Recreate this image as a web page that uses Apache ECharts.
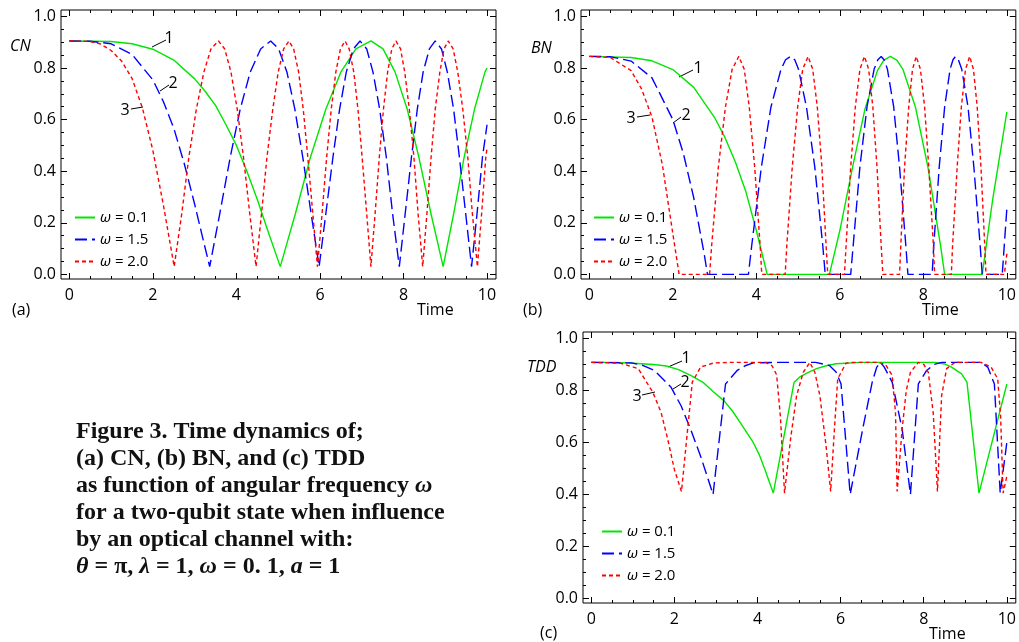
<!DOCTYPE html>
<html>
<head>
<meta charset="utf-8">
<script src="https://cdn.jsdelivr.net/npm/echarts@6/dist/echarts.min.js"></script>
<style>
  html, body { margin: 0; padding: 0; background: #fff; }
  #chart { width: 1019px; height: 642px; }
</style>
</head>
<body>
<div id="chart"></div>
<script>
// tick values
const xTicks = [0, 2, 4, 6, 8, 10];
const yTicks = [0, 0.2, 0.4, 0.6, 0.8, 1.0];
const seriesNames = ['ω = 0.1', 'ω = 1.5', 'ω = 2.0'];

// (a) CN  [time, value]
const cnW01 = [[0,.905],[1,.903],[1.5,.894],[2,.873],[2.5,.831],[3,.758],[3.25,.71],[3.5,.655],[3.75,.58],[4,.50],[4.25,.40],[4.5,.29],[4.75,.17],[5.05,.03],[5.41,.234],[5.77,.453],[6.14,.640],[6.50,.784],[6.86,.874],[7.22,.905],[7.51,.874],[7.80,.784],[8.09,.640],[8.37,.453],[8.66,.234],[8.95,.03],[9.20,.234],[9.45,.453],[9.70,.640],[9.95,.784],[10,.80]];
const cnW15 = [[0,.905],[0.5,.904],[1,.894],[1.5,.853],[2,.754],[2.25,.67],[2.5,.567],[2.75,.43],[3,.272],[3.18,.15],[3.36,.03],[3.60,.234],[3.85,.453],[4.09,.640],[4.33,.784],[4.58,.874],[4.82,.905],[5.01,.874],[5.21,.784],[5.40,.640],[5.59,.453],[5.79,.234],[5.98,.03],[6.14,.234],[6.31,.453],[6.47,.640],[6.63,.784],[6.80,.874],[6.96,.905],[7.12,.874],[7.27,.784],[7.43,.640],[7.59,.453],[7.74,.234],[7.90,.03],[8.04,.234],[8.19,.453],[8.33,.640],[8.47,.784],[8.62,.874],[8.76,.905],[8.91,.874],[9.05,.784],[9.20,.640],[9.34,.453],[9.49,.234],[9.63,.03],[9.76,.234],[9.89,.453],[10,.58]];
const cnW20 = [[0,.905],[0.5,.903],[0.75,.893],[1,.868],[1.25,.827],[1.5,.76],[1.75,.645],[2,.48],[2.25,.27],[2.51,.03],[2.69,.234],[2.86,.453],[3.04,.640],[3.22,.784],[3.39,.874],[3.57,.905],[3.72,.874],[3.87,.784],[4.02,.640],[4.17,.453],[4.32,.234],[4.47,.03],[4.60,.234],[4.73,.453],[4.87,.640],[5.00,.784],[5.13,.874],[5.26,.905],[5.37,.874],[5.49,.784],[5.60,.640],[5.71,.453],[5.83,.234],[5.94,.03],[6.05,.234],[6.16,.453],[6.27,.640],[6.38,.784],[6.49,.874],[6.60,.905],[6.70,.874],[6.81,.784],[6.91,.640],[7.01,.453],[7.12,.234],[7.22,.03],[7.32,.234],[7.42,.453],[7.52,.640],[7.62,.784],[7.72,.874],[7.82,.905],[7.93,.874],[8.03,.784],[8.14,.640],[8.25,.453],[8.35,.234],[8.46,.03],[8.56,.234],[8.66,.453],[8.76,.640],[8.87,.784],[8.97,.874],[9.07,.905],[9.19,.874],[9.30,.784],[9.42,.640],[9.54,.453],[9.65,.234],[9.77,.03],[9.87,.234],[9.97,.453],[10,.49]];

// (b) BN
const bnW01 = [[0,.845],[1,.841],[1.5,.828],[2,.794],[2.5,.725],[3,.608],[3.25,.53],[3.5,.435],[3.75,.32],[4,.17],[4.26,0],[5.75,0],[6.0,.17],[6.31,.42],[6.6,.64],[6.9,.79],[7.05,.83],[7.21,.845],[7.37,.83],[7.51,.795],[7.81,.649],[8.11,.416],[8.41,.113],[8.51,0],[9.41,0],[9.66,.29],[9.85,.48],[10,.63]];
const bnW15 = [[0,.845],[0.5,.844],[1,.827],[1.5,.762],[2,.60],[2.25,.47],[2.5,.297],[2.75,.08],[2.83,0],[3.81,0],[3.89,.113],[4.12,.416],[4.35,.649],[4.59,.795],[4.70,.832],[4.82,.845],[4.92,.832],[5.01,.795],[5.20,.649],[5.40,.416],[5.59,.113],[5.65,0],[6.26,0],[6.32,.113],[6.48,.416],[6.65,.649],[6.82,.795],[6.91,.832],[6.99,.845],[7.06,.832],[7.14,.795],[7.29,.649],[7.43,.416],[7.58,.113],[7.63,0],[8.21,0],[8.25,.113],[8.38,.416],[8.51,.649],[8.64,.795],[8.71,.832],[8.77,.845],[8.84,.832],[8.92,.795],[9.07,.649],[9.21,.416],[9.36,.113],[9.41,0],[9.89,0],[10,.255]];
const bnW20 = [[0,.845],[0.5,.841],[1,.79],[1.25,.719],[1.5,.61],[1.75,.424],[2,.157],[2.15,0],[2.88,0],[2.93,.113],[3.09,.416],[3.26,.649],[3.42,.795],[3.58,.845],[3.71,.795],[3.83,.649],[3.96,.416],[4.09,.113],[4.13,0],[4.69,0],[4.73,.113],[4.86,.416],[4.99,.649],[5.11,.795],[5.24,.845],[5.35,.795],[5.46,.649],[5.57,.416],[5.67,.113],[5.71,0],[6.11,0],[6.15,.113],[6.26,.416],[6.37,.649],[6.48,.795],[6.59,.845],[6.69,.795],[6.79,.649],[6.89,.416],[6.99,.113],[7.03,0],[7.43,0],[7.46,.113],[7.55,.416],[7.65,.649],[7.74,.795],[7.83,.845],[7.93,.795],[8.03,.649],[8.13,.416],[8.24,.113],[8.27,0],[8.67,0],[8.70,.113],[8.81,.416],[8.91,.649],[9.01,.795],[9.11,.845],[9.20,.795],[9.29,.649],[9.38,.416],[9.47,.113],[9.50,0],[9.94,0],[10,.08]];

// (c) TDD
const tddW01 = [[0,.908],[0.57,.908],[1.0,.905],[1.5,.90],[1.81,.894],[2.1,.88],[2.39,.858],[2.7,.83],[2.95,.793],[3.19,.761],[3.4,.72],[3.58,.677],[3.90,.599],[4.05,.55],[4.18,.495],[4.28,.45],[4.38,.405],[4.88,.832],[5.01,.851],[5.2,.868],[5.42,.884],[5.65,.895],[5.89,.903],[6.5,.908],[8.27,.908],[8.5,.902],[8.67,.89],[8.91,.864],[9.04,.832],[9.33,.405],[10,.825]];
const tddW15 = [[0,.908],[0.97,.906],[1.25,.896],[1.52,.877],[1.92,.812],[2.16,.741],[2.39,.651],[2.63,.547],[2.93,.40],[3.23,.825],[3.51,.877],[3.70,.895],[3.90,.906],[4.5,.908],[5.4,.908],[5.73,.896],[5.89,.871],[6.01,.825],[6.23,.40],[6.53,.651],[6.76,.832],[6.87,.89],[6.96,.908],[7.05,.89],[7.24,.832],[7.48,.651],[7.68,.40],[7.87,.825],[8.07,.877],[8.25,.90],[8.43,.908],[9.38,.908],[9.54,.89],[9.70,.825],[9.84,.405],[10,.60]];
const tddW20 = [[0,.908],[0.7,.905],[1.13,.884],[1.48,.793],[1.68,.715],[1.84,.612],[2.0,.495],[2.17,.411],[2.43,.832],[2.63,.89],[2.95,.906],[3.3,.908],[4.2,.908],[4.35,.895],[4.46,.86],[4.55,.70],[4.65,.405],[4.80,.62],[4.94,.78],[5.10,.87],[5.26,.908],[5.38,.87],[5.50,.78],[5.65,.586],[5.76,.411],[5.85,.65],[5.93,.845],[6.13,.905],[6.3,.908],[6.9,.908],[7.08,.90],[7.24,.858],[7.32,.715],[7.36,.411],[7.48,.651],[7.58,.80],[7.68,.87],[7.87,.908],[8.0,.90],[8.11,.87],[8.23,.71],[8.33,.411],[8.43,.78],[8.55,.884],[8.75,.908],[9.38,.908],[9.62,.89],[9.78,.845],[9.85,.70],[9.91,.405],[10,.47]];

const FONT = '"Open Sans", sans-serif';
const SERIF = '"Liberation Serif", serif';
const colors = ['#00e600', '#0000ff', '#ff0000'];
const dashes = ['solid', [12, 5], [4, 3]];

// plot range padded a little, like the frame in the picture
const X_MIN = -0.2, X_MAX = 10.215;
const Y_MIN = -0.018, Y_MAX = 1.025;

const xMinor = [];
for (let v = 0.5; v < 10; v += 0.5) if (v % 2 !== 0) xMinor.push(v);
const yMinor = [];
for (let i = 1; i < 20; i++) if (i % 4 !== 0) yMinor.push(+(i * 0.05).toFixed(2));

const panels = [
  { grid: { left: 61, top: 10, width: 435, height: 269 }, data: [cnW01, cnW15, cnW20], legend: { left: 74, top: 210 } },
  { grid: { left: 581, top: 10, width: 435, height: 269 }, data: [bnW01, bnW15, bnW20], legend: { left: 593, top: 210 } },
  { grid: { left: 583, top: 332, width: 438, height: 271 }, data: [tddW01, tddW15, tddW20], legend: { left: 601, top: 524 } }
];

const grids = [], xAxes = [], yAxes = [], series = [], legends = [];

function tickAxis(gi, pos, ticks, len, withLabels, isX) {
  const ax = {
    gridIndex: gi,
    type: 'value',
    position: pos,
    min: isX ? X_MIN : Y_MIN,
    max: isX ? X_MAX : Y_MAX,
    axisLine: { show: false, onZero: false },
    splitLine: { show: false },
    axisTick: { show: true, inside: true, length: len, customValues: ticks, lineStyle: { color: '#000', width: 1 } },
    axisLabel: { show: false }
  };
  if (withLabels) {
    ax.axisLabel = {
      show: true,
      customValues: ticks,
      margin: isX ? 8 : 5,
      fontFamily: FONT,
      fontSize: 16,
      color: '#000',
      formatter: isX ? (v) => String(v) : (v) => v.toFixed(1)
    };
  }
  return ax;
}

panels.forEach((p, gi) => {
  grids.push(Object.assign({ show: true, borderColor: '#000', borderWidth: 1, containLabel: false }, p.grid));
  const xBase = xAxes.length, yBase = yAxes.length;
  xAxes.push(tickAxis(gi, 'bottom', xTicks, 6, true, true));
  xAxes.push(tickAxis(gi, 'bottom', xMinor, 3, false, true));
  xAxes.push(tickAxis(gi, 'top', xTicks, 6, false, true));
  xAxes.push(tickAxis(gi, 'top', xMinor, 3, false, true));
  yAxes.push(tickAxis(gi, 'left', yTicks, 6, true, false));
  yAxes.push(tickAxis(gi, 'left', yMinor, 3, false, false));
  yAxes.push(tickAxis(gi, 'right', yTicks, 6, false, false));
  yAxes.push(tickAxis(gi, 'right', yMinor, 3, false, false));
  p.data.forEach((d, si) => {
    series.push({
      type: 'line',
      name: seriesNames[si],
      xAxisIndex: xBase,
      yAxisIndex: yBase,
      data: d,
      symbol: 'none',
      showSymbol: false,
      clip: true,
      animation: false,
      lineStyle: { color: colors[si], width: 1.4, type: dashes[si] },
      itemStyle: { color: colors[si] }
    });
  });
  legends.push({
    orient: 'vertical',
    left: p.legend.left,
    top: p.legend.top,
    itemWidth: 20,
    itemHeight: 14,
    itemGap: 7,
    padding: 0,
    selectedMode: false,
    data: seriesNames,
    itemStyle: { opacity: 0 },
    formatter: (name) => '{i|ω}' + name.slice(1),
    textStyle: {
      fontFamily: FONT, fontSize: 15, color: '#000',
      rich: { i: { fontFamily: FONT, fontSize: 15, fontStyle: 'italic', color: '#000' } }
    }
  });
});

function label(x, y, text, opts) {
  return {
    type: 'text', x: x, y: y, silent: true,
    style: Object.assign({
      text: text, fill: '#000', fontFamily: FONT, fontSize: 16,
      textAlign: 'left', textVerticalAlign: 'middle'
    }, opts || {})
  };
}
function leader(x1, y1, x2, y2) {
  return { type: 'line', silent: true, shape: { x1, y1, x2, y2 }, style: { stroke: '#000', lineWidth: 1 } };
}

const captionRich = { i: { fontFamily: SERIF, fontSize: 24, fontWeight: 'bold', fontStyle: 'italic', fill: '#111' } };
const captionLines = [
  'Figure 3. Time dynamics of;',
  '(a) CN, (b) BN, and (c) TDD',
  'as function of angular frequency {i|ω}',
  'for a two-qubit state when influence',
  'by an optical channel with:',
  '{i|θ} = π, {i|λ} = 1, {i|ω} = 0. 1, {i|a} = 1'
];

const graphics = [
  label(10, 46, 'CN', { fontStyle: 'italic' }),
  label(12, 310, '(a)'),
  label(417, 310, 'Time'),
  label(531, 48, 'BN', { fontStyle: 'italic' }),
  label(523, 310, '(b)'),
  label(922, 310, 'Time'),
  label(527, 367, 'TDD', { fontStyle: 'italic' }),
  label(540, 633, '(c)'),
  label(929, 634, 'Time'),
  // curve markers
  leader(152, 47, 166, 40), label(169, 38, '1', { textAlign: 'center' }),
  leader(160, 91, 169, 85), label(173, 83, '2', { textAlign: 'center' }),
  leader(131, 109, 143, 107), label(125, 110, '3', { textAlign: 'center' }),
  leader(679, 77, 693, 70), label(698, 68, '1', { textAlign: 'center' }),
  leader(673, 123, 681, 117), label(686, 115, '2', { textAlign: 'center' }),
  leader(637, 117, 650, 115), label(631, 118, '3', { textAlign: 'center' }),
  leader(668, 367, 682, 361), label(686, 358, '1', { textAlign: 'center' }),
  leader(673, 389, 681, 384), label(685, 382, '2', { textAlign: 'center' }),
  leader(642, 395, 655, 392), label(637, 396, '3', { textAlign: 'center' })
];
captionLines.forEach((t, i) => {
  graphics.push(label(76, 432 + i * 27, t, {
    fontFamily: SERIF, fontSize: 24, fontWeight: 'bold', fill: '#111', rich: captionRich
  }));
});

const chart = echarts.init(document.getElementById('chart'), null, { renderer: 'canvas' });
chart.setOption({
  animation: false,
  backgroundColor: '#fff',
  grid: grids,
  xAxis: xAxes,
  yAxis: yAxes,
  legend: legends,
  series: series,
  graphic: graphics
});
</script>
</body>
</html>
